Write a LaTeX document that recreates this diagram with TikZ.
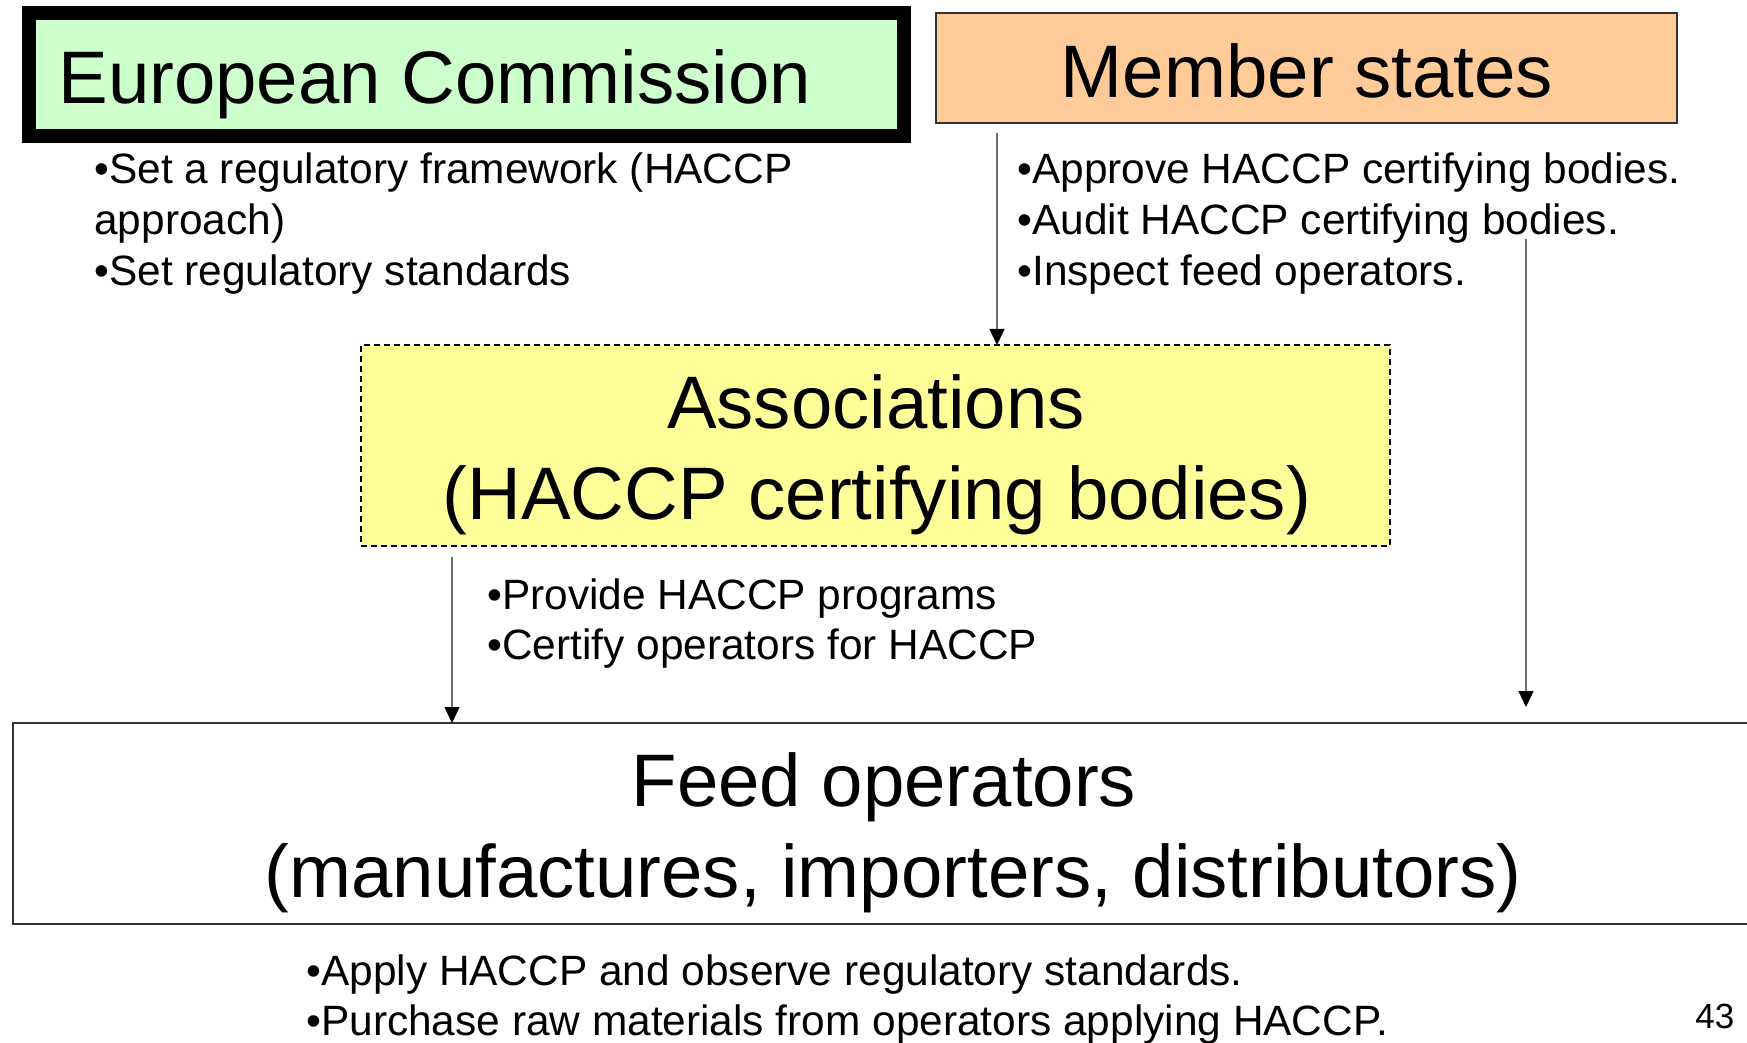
\documentclass[tikz,border=0pt]{standalone}
\usepackage{fontspec}
\setmainfont{Liberation Sans}
\usetikzlibrary{arrows.meta}
\definecolor{ecgreen}{HTML}{CCFFCC}
\definecolor{mspeach}{HTML}{FFCC99}
\definecolor{asyellow}{HTML}{FFFF99}
\definecolor{arrowgray}{HTML}{6E6E6E}
\definecolor{edgegray}{HTML}{333333}
\begin{document}
\begin{tikzpicture}[x=0.5pt,y=-0.5pt,
  box/.style={rectangle, inner sep=0pt, outer sep=0pt},
  title/.style={font=\fontsize{37.2pt}{44pt}\selectfont, inner sep=0pt, anchor=base},
  item/.style={font=\fontsize{21.2pt}{25.5pt}\selectfont, inner sep=0pt, anchor=base west},
  conn/.style={draw=arrowgray, line width=0.6pt, -{Triangle[width=7.5pt,length=8pt,color=black]}}
]
\useasboundingbox (0,0) rectangle (1747,1043);
\fill[white] (0,0) rectangle (1747,1043);

% boxes
\node[box, draw=black, line width=7pt, fill=ecgreen,
      minimum width=437.5pt, minimum height=61.5pt] (ec) at (466.5,74.5) {};
\node[box, draw=edgegray, line width=0.75pt, fill=mspeach,
      minimum width=370.5pt, minimum height=55pt] (ms) at (1306.5,68) {};
\node[box, draw=black, line width=0.9pt, dash pattern=on 3.2pt off 1.8pt, fill=asyellow,
      minimum width=514.5pt, minimum height=100.5pt] (as) at (875.5,445.5) {};
\node[box, fill=white, minimum width=867pt, minimum height=100.5pt] (feed) at (880,823.5) {};
\draw[edgegray, line width=1.2pt] (feed.north east) -- (feed.north west) -- (feed.south west) -- (feed.south east);

% titles
\node[title, anchor=base west] (ectitle) at (58,104) {European Commission};
\node[title] (mstitle) at (1307,98) {Member states};
\node[title] (astitle1) at (876,429) {Associations};
\node[title] (astitle2) at (877,519) {(HACCP certifying bodies)};
\node[title] (feedtitle1) at (884,806) {Feed operators};
\node[title] (feedtitle2) at (893,897) {(manufactures, importers, distributors)};

% bullet texts
\node[item] (ec1) at (94,184) {•Set a regulatory framework (HACCP};
\node[item] (ec2) at (94,235) {approach)};
\node[item] (ec3) at (94,286) {•Set regulatory standards};

\node[item] (ms1) at (1017,184) {•Approve HACCP certifying bodies.};
\node[item] (ms2) at (1017,235) {•Audit HACCP certifying bodies.};
\node[item] (ms3) at (1017,286) {•Inspect feed operators.};

\node[item] (as1) at (487,609) {•Provide HACCP programs};
\node[item] (as2) at (487,659) {•Certify operators for HACCP};

\node[item] (fd1) at (306,985) {•Apply HACCP and observe regulatory standards.};
\node[item] (fd2) at (306,1035) {•Purchase raw materials from operators applying HACCP.};

\node[font=\fontsize{17.5pt}{21pt}\selectfont, inner sep=0pt, anchor=base west] (pagenum) at (1695,1028) {43};

% connectors
\coordinate (a1) at (997,133);
\draw[conn] (a1) -- (a1 |- as.north);
\coordinate (a2) at (452,557);
\draw[conn] (a2) -- (a2 |- feed.north);
\coordinate (a3) at (1526,239);
\coordinate (a3e) at (1526,707);
\draw[conn] (a3) -- (a3e);
\end{tikzpicture}
\end{document}
